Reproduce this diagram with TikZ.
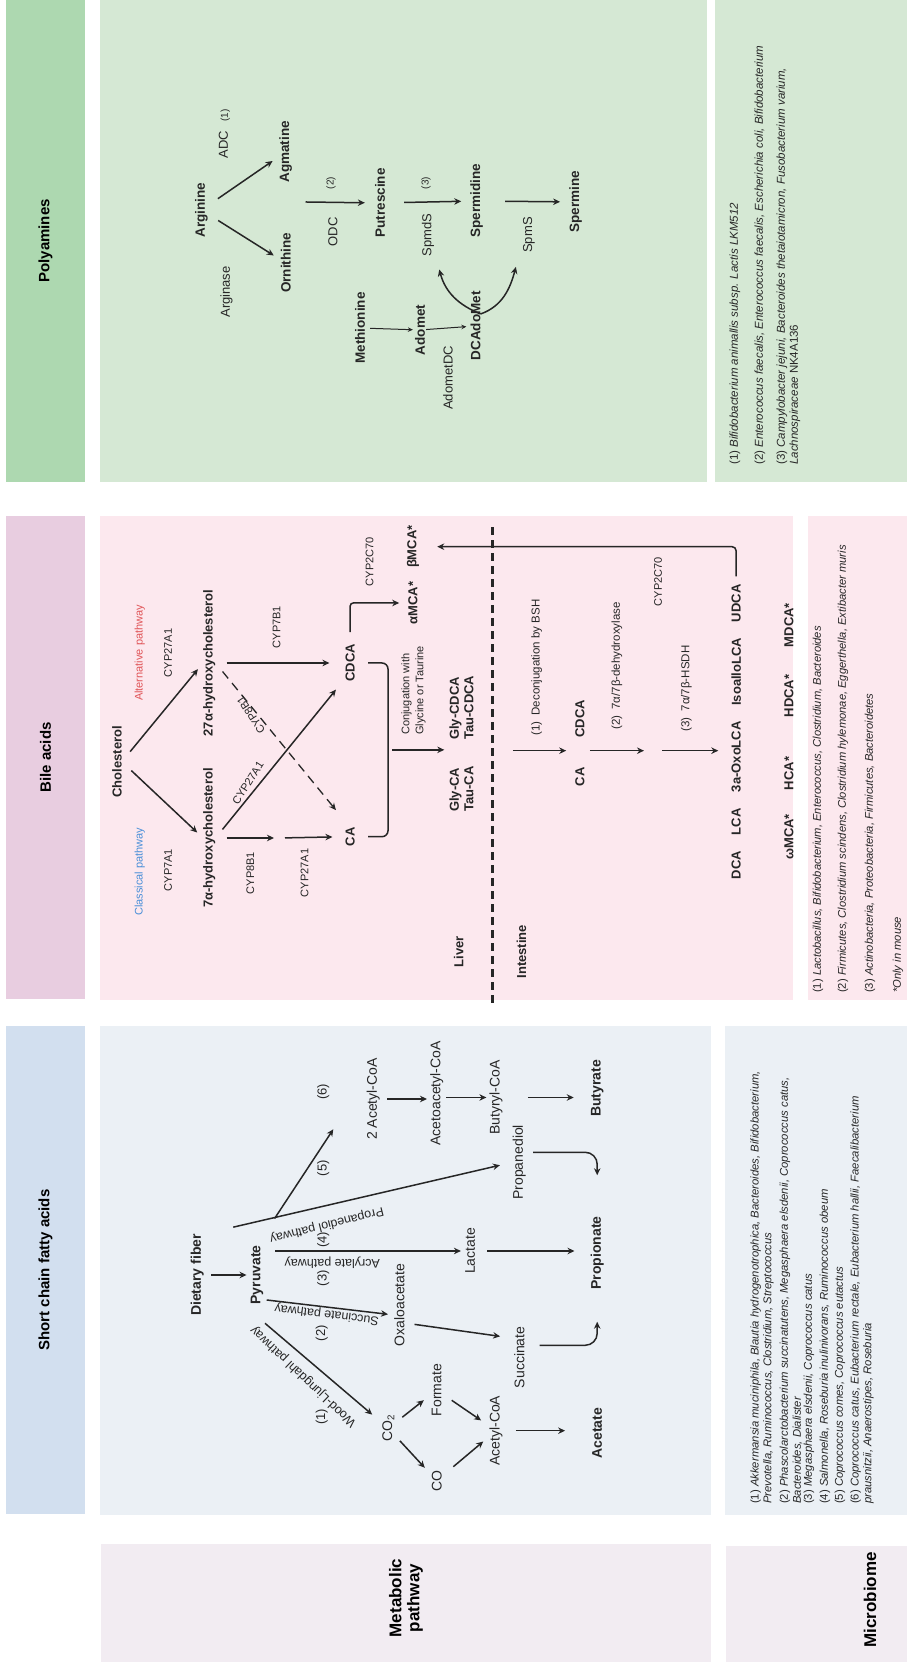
\documentclass[tikz,border=0pt]{standalone}
\usepackage{fontspec}
\setmainfont{Liberation Sans}
\usetikzlibrary{arrows.meta}

\definecolor{polyHead}{HTML}{ADD8B0}
\definecolor{polyPanel}{HTML}{D5E8D4}
\definecolor{bileHead}{HTML}{E8CDE0}
\definecolor{bilePanel}{HTML}{FCE8EE}
\definecolor{scfaHead}{HTML}{D2DFEF}
\definecolor{scfaPanel}{HTML}{EBF0F5}
\definecolor{rowHead}{HTML}{F2ECF2}
\definecolor{clsBlue}{HTML}{4A8FD8}
\definecolor{altRed}{HTML}{E05558}
\definecolor{ink}{HTML}{262626}

\begin{document}
\begin{tikzpicture}[x=1pt, y=1pt, rotate=90,
    every node/.style={transform shape},
    hdr/.style={inner sep=0pt, font=\fontsize{15}{18}\selectfont\bfseries},
    rowtxt/.style={inner sep=0pt, align=center, font=\fontsize{17}{18}\selectfont\bfseries},
    box/.style={inner sep=0pt, draw=none},
    cmp/.style={inner sep=0pt, text=ink, font=\fontsize{#1}{#1}\selectfont\bfseries},
    cmp/.default=13,
    lbl/.style={inner sep=0pt, text=ink, font=\fontsize{#1}{#1}\selectfont},
    lbl/.default=11,
    leg/.style={inner sep=0pt, anchor=west, align=left, text=ink, font=\fontsize{#1}{12.8}\selectfont},
    leg/.default=11.2,
    arr/.style={-{Stealth[length=7pt, width=6.5pt]}, line width=1.5pt, draw=ink},
    thinarr/.style={-{Stealth[length=5pt, width=4.5pt]}, line width=1pt, draw=ink}]
    \useasboundingbox (0,0) rectangle (1662,-907);

    % Column headers
    \node[box, hdr, fill=polyHead, minimum width=482pt, minimum height=79pt] (polyhdr) at (1421,-45.5) {Polyamines};
    \node[box, hdr, fill=bileHead, minimum width=483pt, minimum height=79pt] (bilehdr) at (904.5,-45.5) {Bile acids};
    \node[box, hdr, fill=scfaHead, minimum width=488pt, minimum height=79pt] (scfahdr) at (392,-45.5) {Short chain fatty acids};

    % Row headers
    \node[box, fill=rowHead, minimum width=118pt, minimum height=610pt] (methdr) at (59,-406) {};
    \node[rowtxt] (methtxt) at (64,-406) {Metabolic\\pathway};
    \node[box, fill=rowHead, minimum width=116pt, minimum height=181pt] (microhdr) at (58,-816.5) {};
    \node[rowtxt] (microtxt) at (62,-870) {Microbiome};

    % Panels
    \node[box, fill=polyPanel, minimum width=482pt, minimum height=607pt] (polybox) at (1421,-403.5) {};
    \node[box, fill=polyPanel, minimum width=482pt, minimum height=192pt] (polyleg) at (1421,-811) {};
    \node[box, fill=bilePanel, minimum width=484pt, minimum height=693pt] (bilebox) at (904,-446.5) {};
    \node[box, fill=bilePanel, minimum width=484pt, minimum height=99pt] (bileleg) at (904,-857.5) {};
    \node[box, fill=scfaPanel, minimum width=489pt, minimum height=611pt] (scfabox) at (391.5,-405.5) {};
    \node[box, fill=scfaPanel, minimum width=489pt, minimum height=182pt] (scfaleg) at (391.5,-816) {};

    % Polyamines
    \node[cmp=13.5] (arg) at (1452,-201.5) {Arginine};
    \node[cmp=13.5] (agm) at (1510,-285.7) {Agmatine};
    \node[cmp=13.5] (orn) at (1399,-285.7) {Ornithine};
    \node[lbl=13] (adc) at (1528,-224.4) {ADC\hspace{9pt}{\fontsize{10}{10}\selectfont(1)}};
    \node[lbl=13] (argase) at (1370,-226.4) {Arginase};
    \node[lbl=13] (odc) at (1430,-333) {ODC};
    \node[lbl=10] (pn2) at (1479,-331) {(2)};
    \node[cmp=13.5] (put) at (1459,-380) {Putrescine};
    \node[lbl=13] (spds) at (1427,-428) {SpmdS};
    \node[lbl=10] (pn3) at (1479,-426) {(3)};
    \node[cmp=13.5] (spd) at (1461,-476.7) {Spermidine};
    \node[lbl=13] (spms) at (1427,-529) {SpmS};
    \node[cmp=13.5] (spm) at (1460,-575.6) {Spermine};
    \node[cmp=13.5] (met) at (1334,-360) {Methionine};
    \node[cmp=13.5] (adomet) at (1332,-420) {Adomet};
    \node[cmp=13.5] (dcado) at (1336,-475.5) {DCAdoMet};
    \node[lbl=13] (adodc) at (1284,-448) {AdometDC};
    \coordinate (ao) at (1460,-305.5);

    \draw[arr, shorten <=12pt, shorten >=8pt] (arg) -- (agm);
    \draw[arr, shorten <=12pt, shorten >=8pt] (arg) -- (orn);
    \draw[arr, shorten >=10pt] (ao) -- (put);
    \draw[arr, shorten <=19pt, shorten >=9pt] (put) -- (spd);
    \draw[arr, shorten <=22pt, shorten >=9pt] (spd) -- (spm);
    \draw[thinarr, shorten <=5pt, shorten >=2pt] (met) -- (adomet);
    \draw[thinarr, shorten <=1pt, shorten >=4pt] (adomet) -- (dcado);
    \draw[arr] ([xshift=12pt]dcado.south) to[out=68, in=195] ([shift={(-13pt,-5pt)}]spds.south west);
    \draw[arr] ([xshift=12pt]dcado.south) to[out=-70, in=165] ([shift={(-14pt,7pt)}]spms.north west);

    % Polyamines microbiome
    \node[leg=11.5] (pleg1) at (1197,-735) {(1) \textit{Bifidobacterium animallis subsp. Lactis LKM512}};
    \node[leg=11.5] (pleg2) at (1197,-760) {(2) \textit{Enterococcus faecalis, Enterococcus faecalis, Escherichia coli, Bifidobacterium}};
    \node[leg=11.5] (pleg3) at (1197,-788.4) {(3) \textit{Campylobacter jejuni, Bacteroides thetaiotamicron, Fusobacterium varium,}\\\textit{Lachnospiraceae} NK4A136};

    % Bile acids
    \node[cmp] (chol) at (900.3,-116.9) {Cholesterol};
    \node[lbl, text=clsBlue] (clspath) at (790.3,-139.9) {Classical pathway};
    \node[lbl, text=altRed] (altpath) at (1009,-139.9) {Alternative pathway};
    \node[lbl] (cyp7a1) at (792,-168) {CYP7A1};
    \node[lbl] (cyp27a1a) at (1009,-168) {CYP27A1};
    \node[cmp] (h7) at (824,-209.3) {7α-hydroxycholesterol};
    \node[cmp] (h27) at (999,-209.3) {27α-hydroxycholesterol};
    \node[lbl] (cyp8b1) at (789,-250.4) {CYP8B1};
    \node[lbl] (cyp27a1b) at (789,-304.7) {CYP27A1};
    \node[lbl] (cyp7b1) at (1035,-276.5) {CYP7B1};
    \node[lbl, rotate=-32.7] (cyp27a1c) at (879,-248) {CYP27A1};
    \node[lbl, rotate=33.3] (cyp8b1b) at (947,-251) {CYP8B1};
    \node[cmp] (ca) at (825.3,-350.2) {CA};
    \node[cmp] (cdca) at (999,-350.2) {CDCA};
    \coordinate (h7mid) at (824,-280);
    \node[lbl, anchor=west, align=left, font=\fontsize{11}{14}\selectfont] (conjtxt) at (927,-413.5) {Conjugation with\\Glycine or Taurine};
    \node[cmp, anchor=west, align=left, font=\fontsize{13}{14.5}\selectfont\bfseries] (glyca) at (850,-461.5) {Gly-CA\\Tau-CA};
    \node[cmp, anchor=west, align=left, font=\fontsize{13}{14.5}\selectfont\bfseries] (glycdca) at (922,-461.5) {Gly-CDCA\\Tau-CDCA};
    \node[lbl] (cyp2c70a) at (1100.3,-369.7) {CYP2C70};
    \node[cmp] (amca) at (1059,-413) {αMCA*};
    \node[cmp] (bmca) at (1115.3,-413) {βMCA*};

    \draw[arr, shorten <=13pt, shorten >=8pt] (chol.south) -- (h7.north);
    \draw[arr, shorten <=13pt, shorten >=8pt] (chol.south) -- (h27.north);
    \draw[arr, shorten <=11pt, shorten >=6pt] (h7.south) -- (h7mid);
    \draw[arr, shorten <=5pt, shorten >=13pt] (h7mid) -- (ca.north);
    \draw[arr, shorten <=11pt, shorten >=16pt] (h27.south) -- (cdca.north);
    \draw[arr, shorten <=11pt, shorten >=15pt] (h7.south) -- ([xshift=-15pt]cdca.north);
    \draw[arr, dash pattern=on 9pt off 6pt, line width=1.3pt, shorten <=11pt, shorten >=15pt] (h27.south) -- ([xshift=15pt]ca.north);
    \draw[line width=1.5pt, draw=ink, rounded corners=6pt, shorten <=13pt, shorten >=13pt] (cdca.south) -- ++(0,-33) -| coordinate[pos=0.25] (conj) (ca.south);
    \draw[arr, shorten <=4pt, shorten >=5pt] (conj) -- (conj |- glyca.north);
    \draw[arr, rounded corners=3pt, shorten <=12pt, shorten >=9pt] (cdca.east) -| (amca.north);

    % Liver / intestine border
    \draw[line width=3pt, draw=ink, dash pattern=on 8pt off 5pt] (659,-492.4) -- (1139,-492.4);
    \node[cmp] (liver) at (710.3,-458.6) {Liver};
    \node[cmp] (intest) at (710.3,-521.5) {Intestine};

    \node[lbl=11.5] (deconj) at (994.5,-536.7) {(1)\hspace{6pt}Deconjugation by BSH};
    \coordinate (bsh) at (911.3,-512.8);
    \node[cmp] (ca2) at (885,-580) {CA};
    \node[cmp] (cdca2) at (943,-580) {CDCA};
    \node[lbl=11.5] (dehyd) at (996,-616.9) {(2)\hspace{6pt}7α/7β-dehydroxylase};
    \coordinate (dehydend) at (911.3,-653);
    \node[lbl] (cyp2c70b) at (1080.3,-658) {CYP2C70};
    \node[lbl=11.5] (hsdh) at (973.5,-686.3) {(3)\hspace{6pt}7α/7β-HSDH};
    \node[cmp] (dca) at (797,-736.1) {DCA};
    \node[cmp] (lca) at (840.3,-736.1) {LCA};
    \node[cmp] (oxo) at (905.3,-736.1) {3a-OxoLCA};
    \node[cmp] (isoallo) at (990.3,-736.1) {IsoalloLCA};
    \node[cmp] (udca) at (1058.7,-736.1) {UDCA};
    \node[cmp] (omca) at (825,-789) {ωMCA*};
    \node[cmp] (hca) at (888.5,-789) {HCA*};
    \node[cmp] (hdca) at (966,-789) {HDCA*};
    \node[cmp] (mdca) at (1037,-789) {MDCA*};

    \draw[arr, shorten >=9pt] (bsh) -- (bsh |- ca2.north);
    \draw[arr, shorten <=5pt, shorten >=9pt] (bsh |- ca2.south) -- (dehydend);
    \draw[arr, shorten <=9pt, shorten >=13pt] (dehydend) -- (dehydend |- oxo.north);
    \draw[arr, rounded corners=4pt, shorten <=8pt, shorten >=18pt] (udca.east) -| (bmca.south);

    % Bile acids microbiome
    \node[leg] (bleg1) at (669,-818) {(1) \textit{Lactobacillus, Bifidobacterium, Enterococcus, Clostridium, Bacteroides}};
    \node[leg] (bleg2) at (669,-843) {(2) \textit{Firmicutes, Clostridium scindens, Clostridium hylemonae, Eggerthella, Extibacter muris}};
    \node[leg] (bleg3) at (669,-870) {(3) \textit{Actinobacteria, Proteobacteria, Firmicutes, Bacteroidetes}};
    \node[leg] (bleg4) at (669,-898) {\textit{*Only in mouse}};

    % Short chain fatty acids
    \node[cmp=14] (df) at (387,-197.3) {Dietary fiber};
    \node[cmp=14] (pyr) at (387,-257) {Pyruvate};
    \node[lbl=14] (co2) at (233.7,-388.3) {CO\textsubscript{2}};
    \node[lbl=14] (co) at (181.3,-436.7) {CO};
    \node[lbl=14] (form) at (272,-436.7) {Formate};
    \node[lbl=14] (acoa) at (231.3,-496.1) {Acetyl-CoA};
    \node[cmp=14] (acet) at (228.7,-597.2) {Acetate};
    \node[lbl=14] (oxa) at (357,-399.3) {Oxaloacetate};
    \node[lbl=14] (succ) at (304.7,-519.3) {Succinate};
    \node[lbl=14] (lac) at (411,-470) {Lactate};
    \node[cmp=14] (prop) at (409,-597.2) {Propionate};
    \node[lbl=14] (pdiol) at (499.7,-519.3) {Propanediol};
    \node[lbl=14] (acet2) at (563,-373.3) {2 Acetyl-CoA};
    \node[lbl=14] (acetoac) at (568.7,-436.7) {Acetoacetyl-CoA};
    \node[lbl=14] (butcoa) at (564.5,-496.1) {Butyryl-CoA};
    \node[cmp=14] (but) at (573.7,-597.2) {Butyrate};

    \node[lbl=13] (sn1) at (245.3,-321.7) {(1)};
    \node[lbl=13] (sn2) at (328.7,-321.7) {(2)};
    \node[lbl=13] (sn3) at (383.7,-323.3) {(3)};
    \node[lbl=13] (sn4) at (422,-323.3) {(4)};
    \node[lbl=13] (sn5) at (493.7,-323.3) {(5)};
    \node[lbl=13] (sn6) at (570.3,-323.3) {(6)};
    \node[lbl=12.5, rotate=46.4] (wlpath) at (285.3,-303.3) {Wood-Ljungdahl pathway};
    \node[lbl=12.5, rotate=83] (sucpath) at (348,-326.7) {Succinate pathway};
    \node[lbl=12.5, rotate=90] (acrpath) at (399.3,-332.3) {Acrylate pathway};
    \node[lbl=12.5, rotate=104] (pdpath) at (437,-326.7) {Propanediol pathway};

    \coordinate (wlst) at (338.7,-265);
    \coordinate (spst) at (362,-266.7);
    \coordinate (p6) at (532.7,-333.3);

    \draw[arr, shorten <=7pt, shorten >=4pt] (df) -- (pyr);
    \draw[arr, shorten >=13pt] (wlst) -- (co2);
    \draw[arr, shorten >=6pt] (spst) -- ([xshift=-10pt]oxa.north);
    \draw[arr, shorten <=12pt, shorten >=4pt] (pyr.south -| lac) -- (lac.north);
    \draw[arr, shorten <=30pt, shorten >=13pt] (df.south east) -- (pdiol.north);
    \draw[arr, shorten <=32pt] (pyr.east) -- (p6);
    \draw[arr, shorten <=10pt, shorten >=10pt] (co2) -- (form);
    \draw[arr, shorten <=8pt, shorten >=10pt] (co2) -- (co);
    \draw[arr, shorten <=12pt, shorten >=10pt] (form) -- (acoa);
    \draw[arr, shorten <=15pt, shorten >=8pt] (co) -- (acoa);
    \draw[arr, shorten <=13pt, shorten >=27pt] (acoa.south) -- (acoa.south |- acet.north);
    \draw[arr, shorten <=10pt, shorten >=14pt] ([xshift=-18pt]oxa.south) -- ([xshift=19pt]succ.north);
    \draw[arr, rounded corners=12pt, shorten <=15pt, shorten >=32pt] ([xshift=12pt]succ.south) |- (prop.west);
    \draw[arr, shorten <=12pt, shorten >=16pt] (lac.south) -- (lac.south |- prop.north);
    \draw[arr, rounded corners=12pt, shorten <=7pt, shorten >=41pt] ([xshift=10pt]pdiol.south) |- (prop.east);
    \draw[arr, shorten <=7pt, shorten >=3pt] (acet2.south) -- (acet2.south |- acetoac.north);
    \draw[arr, shorten <=3pt, shorten >=3pt] (acetoac.south -| butcoa) -- (butcoa.north);
    \draw[arr, shorten <=25pt, shorten >=17pt] (butcoa.south) -- (butcoa.south |- but.north);

    % SCFA microbiome
    \node[leg=11.3] (sleg1) at (158,-762) {(1) \textit{Akkermansia muciniphila, Blautia hydrogenotrophica, Bacteroides, Bifidobacterium,}\\\textit{Prevotella, Ruminococcus, Clostridium, Streptococcus}};
    \node[leg=11.3] (sleg2) at (158,-791) {(2) \textit{Phascolarctobacterium succinatutens, Megasphaera elsdenii, Coprococcus catus,}\\\textit{Bacteroides, Dialister}};
    \node[leg=11.3] (sleg3) at (158,-809) {(3) \textit{Megasphaera elsdenii, Coprococcus catus}};
    \node[leg=11.3] (sleg4) at (158,-825) {(4) \textit{Salmonella, Roseburia inulinivorans, Ruminococcus obeum}};
    \node[leg=11.3] (sleg5) at (158,-840) {(5) \textit{Coprococcus comes, Coprococcus eutactus}};
    \node[leg=11.3] (sleg6) at (158,-862) {(6) \textit{Coprococcus catus, Eubacterium rectale, Eubacterium hallii, Faecalibacterium}\\\textit{prausnitzii, Anaerostipes, Roseburia}};
\end{tikzpicture}
\end{document}
